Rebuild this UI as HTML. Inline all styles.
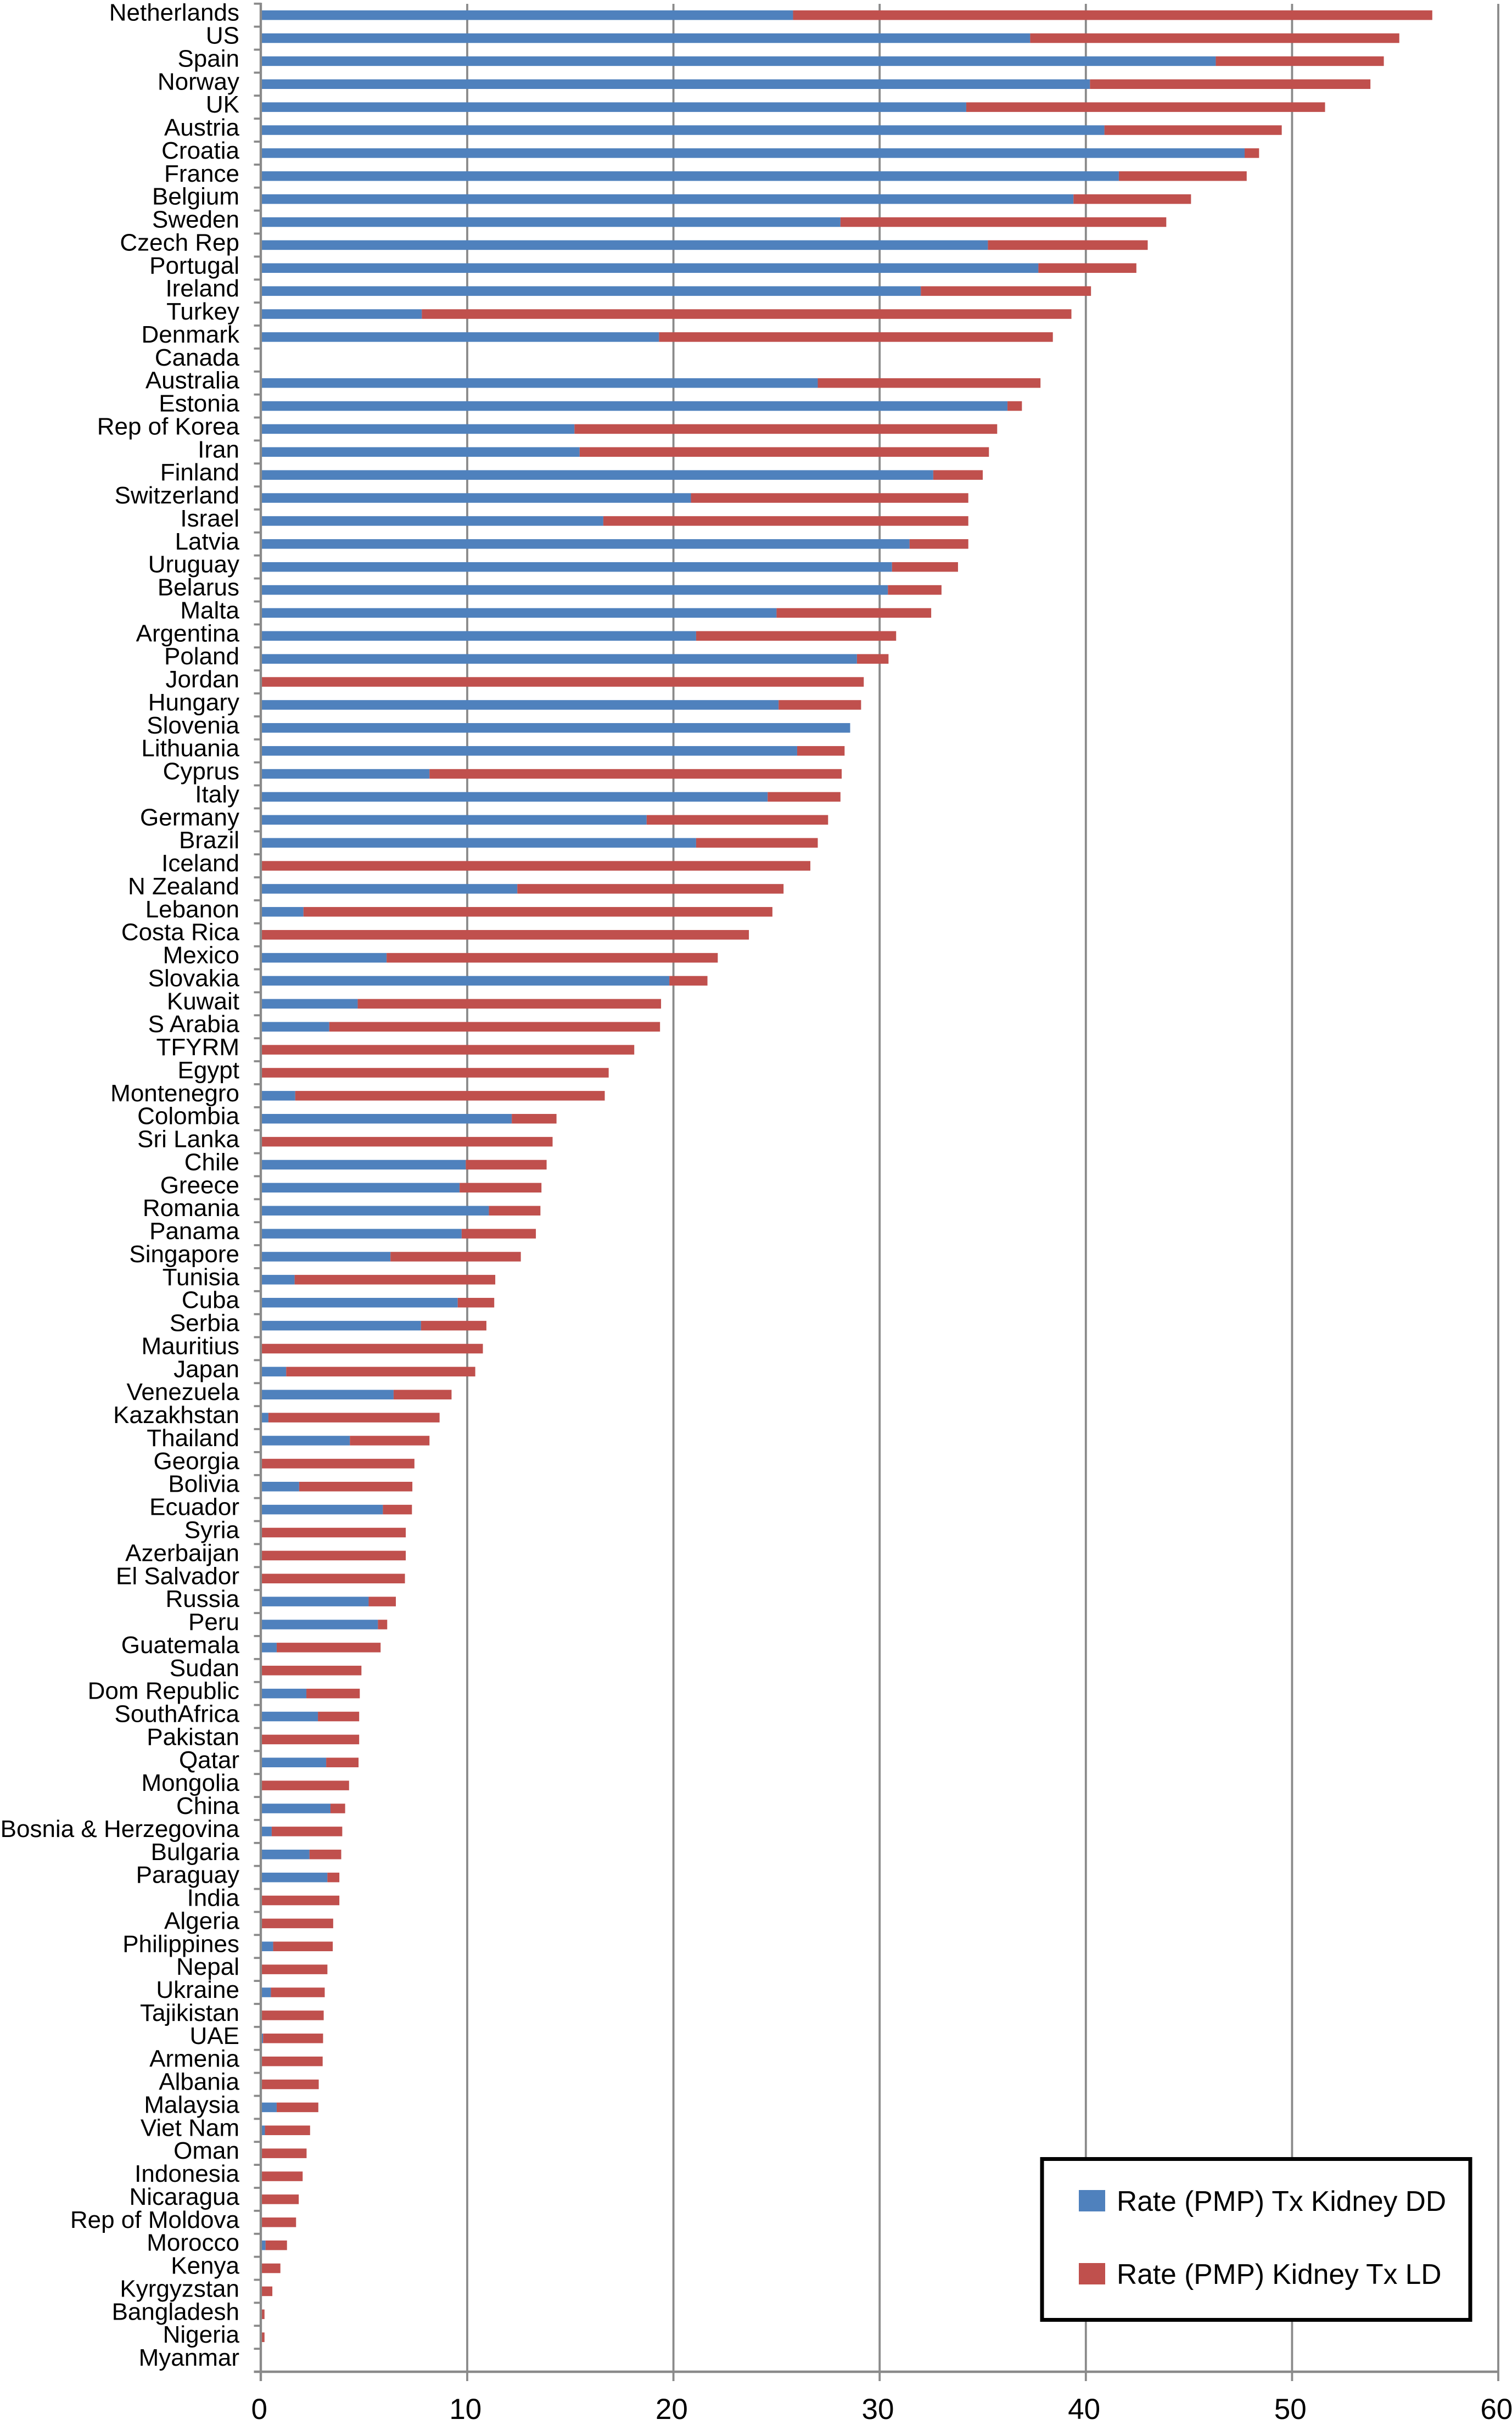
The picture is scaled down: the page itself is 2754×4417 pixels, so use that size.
<!DOCTYPE html>
<html lang="en">
<head>
<meta charset="utf-8">
<title>Kidney transplant rate by country</title>
<style>
html,body{margin:0;padding:0;background:#fff;}
svg{display:block;font-family:"Liberation Sans",Arial,sans-serif;}
</style>
</head>
<body>
<svg id="chart" xmlns="http://www.w3.org/2000/svg" width="2754" height="4417" viewBox="0 0 2754 4417">
<rect x="0" y="0" width="2754" height="4417" fill="#ffffff"/>
<g id="grid"></g>
<g id="bars"></g>
<g id="axes"></g>
<g id="cat-labels"></g>
<g id="x-labels"></g>
<g>
<rect x="1898" y="3932.5" width="780" height="293" fill="#ffffff" stroke="#000000" stroke-width="7"/>
<rect x="1965" y="3989" width="48" height="39" fill="#4F81BD"/>
<text x="2034" y="4027" font-size="51.5" fill="#000">Rate (PMP) Tx Kidney DD</text>
<rect x="1965" y="4122" width="48" height="39" fill="#C0504D"/>
<text x="2034" y="4160" font-size="51.5" fill="#000">Rate (PMP) Kidney Tx LD</text>
</g>
</svg>
<script>
const categories = ["Netherlands","US","Spain","Norway","UK","Austria","Croatia","France","Belgium","Sweden","Czech Rep","Portugal","Ireland","Turkey","Denmark","Canada","Australia","Estonia","Rep of Korea","Iran","Finland","Switzerland","Israel","Latvia","Uruguay","Belarus","Malta","Argentina","Poland","Jordan","Hungary","Slovenia","Lithuania","Cyprus","Italy","Germany","Brazil","Iceland","N Zealand","Lebanon","Costa Rica","Mexico","Slovakia","Kuwait","S Arabia","TFYRM","Egypt","Montenegro","Colombia","Sri Lanka","Chile","Greece","Romania","Panama","Singapore","Tunisia","Cuba","Serbia","Mauritius","Japan","Venezuela","Kazakhstan","Thailand","Georgia","Bolivia","Ecuador","Syria","Azerbaijan","El Salvador","Russia","Peru","Guatemala","Sudan","Dom Republic","SouthAfrica","Pakistan","Qatar","Mongolia","China","Bosnia & Herzegovina","Bulgaria","Paraguay","India","Algeria","Philippines","Nepal","Ukraine","Tajikistan","UAE","Armenia","Albania","Malaysia","Viet Nam","Oman","Indonesia","Nicaragua","Rep of Moldova","Morocco","Kenya","Kyrgyzstan","Bangladesh","Nigeria","Myanmar"];
const rateDD = [25.8,37.3,46.3,40.2,34.2,40.9,47.7,41.6,39.4,28.1,35.25,37.7,32.0,7.8,19.3,0,27.0,36.2,15.2,15.45,32.6,20.85,16.6,31.45,30.6,30.4,25.0,21.1,28.9,0,25.1,28.57,26.0,8.17,24.57,18.7,21.1,0,12.43,2.06,0,6.09,19.8,4.69,3.31,0,0,1.66,12.16,0,9.93,9.63,11.05,9.73,6.28,1.63,9.54,7.76,0,1.22,6.43,0.36,4.31,0,1.85,5.91,0,0,0,5.22,5.67,0.76,0,2.2,2.76,0,3.16,0,3.37,0.52,2.35,3.22,0,0,0.59,0,0.48,0,0.1,0,0,0.76,0.19,0,0,0,0,0.22,0,0,0,0,0];
const rateLD = [31.0,17.9,8.15,13.6,17.4,8.6,0.7,6.2,5.7,15.8,7.75,4.75,8.25,31.5,19.1,0,10.8,0.7,20.5,19.85,2.4,13.45,17.7,2.85,3.2,2.6,7.5,9.7,1.53,29.23,4.0,0,2.3,19.99,3.53,8.8,5.9,26.64,12.91,22.74,23.66,16.06,1.85,14.71,16.04,18.1,16.86,15.01,2.17,14.14,3.92,3.97,2.5,3.6,6.32,9.73,1.77,3.17,10.76,9.17,2.81,8.3,3.86,7.44,5.49,1.41,7.02,7.02,6.98,1.32,0.45,5.04,4.87,2.59,2.0,4.76,1.57,4.27,0.71,3.42,1.54,0.58,3.8,3.5,2.89,3.22,2.61,3.04,2.91,2.99,2.8,2.02,2.19,2.21,2.02,1.83,1.7,1.04,0.94,0.55,0.17,0.17,0];
const xTickValues = [0,10,20,30,40,50,60];

const NS = "http://www.w3.org/2000/svg";
const plotLeft = 475.4, plotRight = 2729, plotTop = 6.7, plotBottom = 4320, xMax = 60;
const barHeight = 17.5;
const axisColor = "#8a8a8a";

function xScale(v){ return plotLeft + v * (plotRight - plotLeft) / xMax; }
function bandStep(){ return (plotBottom - plotTop) / categories.length; }
function bandEdge(i){ return plotTop + i * bandStep(); }
function bandCenter(i){ return bandEdge(i) + bandStep() / 2; }
function make(tag, attrs, parent){
  const el = document.createElementNS(NS, tag);
  for (const k in attrs) el.setAttribute(k, attrs[k]);
  parent.appendChild(el);
  return el;
}

const gridG = document.getElementById("grid");
const barsG = document.getElementById("bars");
const axesG = document.getElementById("axes");
const catG = document.getElementById("cat-labels");
const xG = document.getElementById("x-labels");

xTickValues.forEach(function(v){
  if (v === 0) return;
  const line = make("line", {x1:xScale(v), x2:xScale(v), y1:7, y2:4337, stroke:axisColor, "stroke-width":3.8}, gridG);
  
  
});

categories.forEach(function(name, i){
  const cy = bandCenter(i);
  const dd = rateDD[i], ld = rateLD[i];
  if (dd > 0) {
    const b = make("rect", {x:xScale(0), y:cy - barHeight/2, width:xScale(dd) - xScale(0), height:barHeight, fill:"#4F81BD"}, barsG);
    
    
  }
  if (ld > 0) {
    const r = make("rect", {x:xScale(dd), y:cy - barHeight/2, width:xScale(dd + ld) - xScale(dd), height:barHeight, fill:"#C0504D"}, barsG);
    
    
  }
  const t = make("text", {x:436, y:cy + 10, "text-anchor":"end", "font-size":44, fill:"#000"}, catG);
  
  
  t.textContent = name;
});

for (let i = 0; i <= categories.length; i++) {
  const tick = make("line", {x1:462.5, x2:plotLeft, y1:bandEdge(i), y2:bandEdge(i), stroke:axisColor, "stroke-width":3.8}, axesG);
  
  
}
const yAxis = make("line", {x1:475, x2:475, y1:5, y2:4337, stroke:axisColor, "stroke-width":4.4}, axesG);


const xAxis = make("line", {x1:462.5, x2:plotRight + 1.5, y1:plotBottom, y2:plotBottom, stroke:axisColor, "stroke-width":4.4}, axesG);



xTickValues.forEach(function(v){
  const t = make("text", {x:xScale(v) - 3.2, y:4406, "text-anchor":"middle", "font-size":53, fill:"#000"}, xG);
  
  
  t.textContent = String(v);
});
</script>
</body>
</html>
